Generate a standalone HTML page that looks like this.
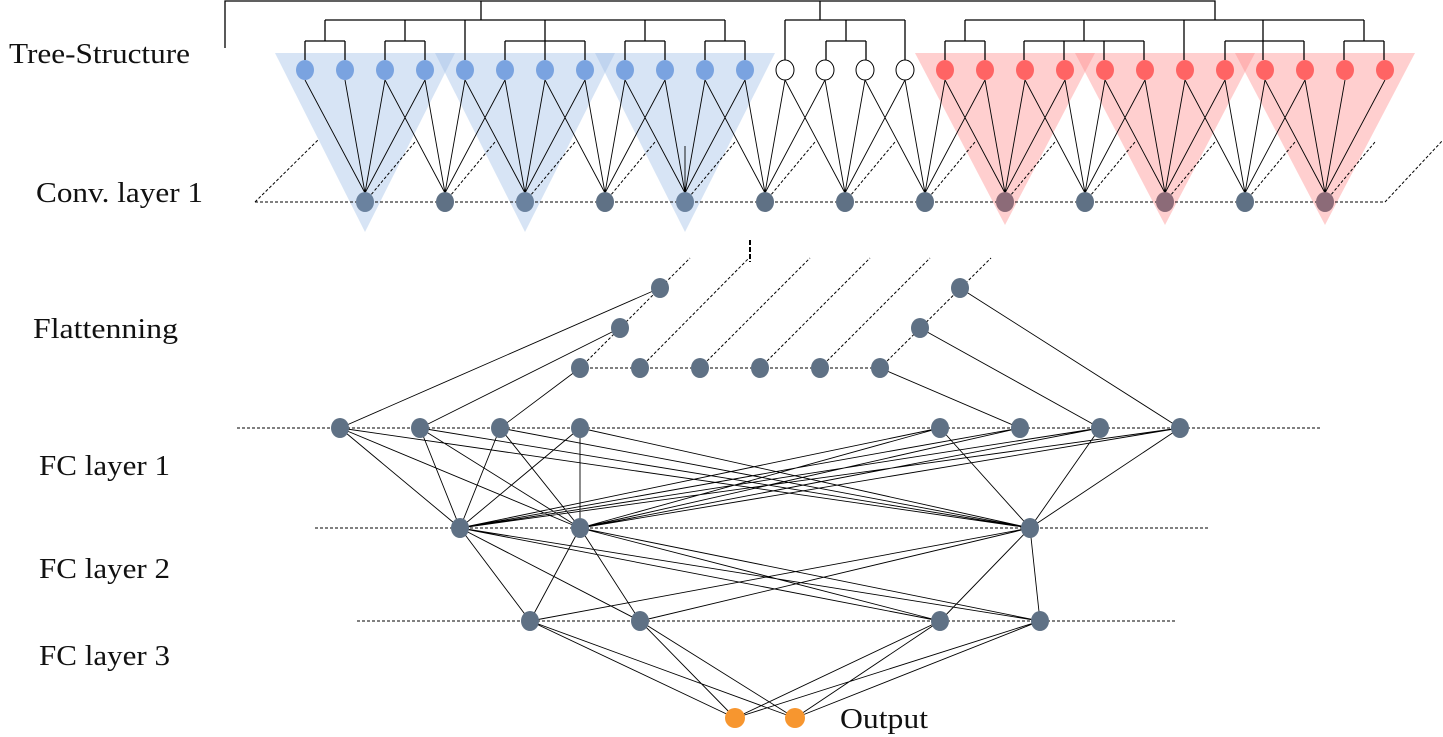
<!DOCTYPE html>
<html><head><meta charset="utf-8"><style>
html,body{margin:0;padding:0;background:#fff;}
svg{display:block;}
text{font-family:"Liberation Serif",serif;font-size:29px;fill:#111;}
</style></head><body>
<svg width="1443" height="737" viewBox="0 0 1443 737" xmlns="http://www.w3.org/2000/svg">
<g fill="rgb(160,190,232)" fill-opacity="0.42">
<polygon points="275,53 455,53 365,232"/>
<polygon points="435,53 615,53 525,232"/>
<polygon points="595,53 775,53 685,232"/>
</g>
<g fill="rgb(255,140,140)" fill-opacity="0.42">
<polygon points="915,53 1095,53 1005,225"/>
<polygon points="1075,53 1255,53 1165,225"/>
<polygon points="1235,53 1415,53 1325,225"/>
</g>
<g stroke="#000" stroke-width="1.3" fill="none">
<path d="M225,48 V1 H1215 V20 M481,1 V20 M820,1 V20"/>
<path d="M325,20 H725 M325,20 V41 M305,41 H345 M305,41 V60 M345,41 V60 M405,20 V41 M385,41 H425 M385,41 V60 M425,41 V60 M465,20 V60 M545,20 V41 M505,41 H585 M505,41 V60 M585,41 V60 M545,41 V60 M645,20 V41 M625,41 H665 M625,41 V60 M665,41 V60 M725,20 V41 M705,41 H745 M705,41 V60 M745,41 V60"/>
<path d="M785,20 H905 M785,20 V60 M905,20 V60 M846,20 V41 M826,41 H866 M826,41 V60 M866,41 V60"/>
<path d="M965,20 H1364 M965,20 V41 M945,41 H985 M945,41 V60 M985,41 V60 M1084,20 V41 M1024,41 H1144 M1024,41 V60 M1064,41 V60 M1104,41 V60 M1144,41 V60 M1184,20 V60 M1263,20 V60 M1225,41 H1304 M1225,41 V60 M1304,41 V60 M1364,20 V41 M1344,41 H1384 M1344,41 V60 M1384,41 V60"/>
</g>
<g stroke="#000" stroke-width="1" stroke-dasharray="3,2" fill="none">
<path d="M255,202 H1385 L1443,140 M255,202 L318,140"/>
<path d="M365,202 l50,-60 M445,202 l50,-60 M525,202 l50,-60 M605,202 l50,-60 M685,202 l50,-60 M765,202 l50,-60 M845,202 l50,-60 M925,202 l50,-60 M1005,202 l50,-60 M1085,202 l50,-60 M1165,202 l50,-60 M1245,202 l50,-60 M1325,202 l50,-60"/>
<path d="M750,240 V262" stroke-width="2" stroke-dasharray="5,2"/>
<path d="M580,368 H880 M580,368 L690,258 M640,368 L749,258 M700,368 L810,258 M760,368 L870,258 M820,368 L930,258 M880,368 L991,258"/>
<path d="M237,428 H1322 M315,528 H1210 M357,621 H1175"/>
</g>
<g stroke="#000" stroke-width="0.9" fill="none">
<path d="M305,80 L365,193 M345,80 L365,193 M385,80 L365,193 M425,80 L365,193
M385,80 L445,193 M425,80 L445,193 M465,80 L445,193 M505,80 L445,193
M465,80 L525,193 M505,80 L525,193 M545,80 L525,193 M585,80 L525,193
M545,80 L605,193 M585,80 L605,193 M625,80 L605,193 M665,80 L605,193
M625,80 L685,193 M665,80 L685,193 M705,80 L685,193 M745,80 L685,193
M705,80 L765,193 M745,80 L765,193 M785,80 L765,193 M825,80 L765,193
M785,80 L845,193 M825,80 L845,193 M865,80 L845,193 M905,80 L845,193
M865,80 L925,193 M905,80 L925,193 M945,80 L925,193 M985,80 L925,193
M945,80 L1005,193 M985,80 L1005,193 M1025,80 L1005,193 M1065,80 L1005,193
M1025,80 L1085,193 M1065,80 L1085,193 M1105,80 L1085,193 M1145,80 L1085,193
M1105,80 L1165,193 M1145,80 L1165,193 M1185,80 L1165,193 M1225,80 L1165,193
M1185,80 L1245,193 M1225,80 L1245,193 M1265,80 L1245,193 M1305,80 L1245,193
M1265,80 L1325,193 M1305,80 L1325,193 M1345,80 L1325,193 M1385,80 L1325,193
M685,146 V193"/>
<path d="M660,288 L340,428 M620,328 L420,428 M580,368 L500,428 M880,368 L1020,428 M920,328 L1100,428 M960,288 L1180,428"/>
<path d="M340,428 L460,528 M340,428 L580,528 M340,428 L1030,528
M420,428 L460,528 M420,428 L580,528 M420,428 L1030,528
M500,428 L460,528 M500,428 L580,528 M500,428 L1030,528
M580,428 L460,528 M580,428 L580,528 M580,428 L1030,528
M940,428 L460,528 M940,428 L580,528 M940,428 L1030,528
M1020,428 L460,528 M1020,428 L580,528
M1100,428 L460,528 M1100,428 L580,528 M1100,428 L1030,528
M1180,428 L460,528 M1180,428 L580,528 M1180,428 L1030,528"/>
<path d="M460,528 L530,621 M460,528 L640,621 M460,528 L940,621 M460,528 L1040,621
M580,528 L530,621 M580,528 L640,621 M580,528 L940,621 M580,528 L1040,621
M1030,528 L530,621 M1030,528 L640,621 M1030,528 L940,621 M1030,528 L1040,621"/>
<path d="M530,621 L735,718 M530,621 L795,718 M640,621 L735,718 M640,621 L795,718 M940,621 L735,718 M940,621 L795,718 M1040,621 L735,718 M1040,621 L795,718"/>
</g>
<g fill="#7aa3e0">
<ellipse cx="305" cy="70" rx="9" ry="10"/><ellipse cx="345" cy="70" rx="9" ry="10"/><ellipse cx="385" cy="70" rx="9" ry="10"/><ellipse cx="425" cy="70" rx="9" ry="10"/>
<ellipse cx="465" cy="70" rx="9" ry="10"/><ellipse cx="505" cy="70" rx="9" ry="10"/><ellipse cx="545" cy="70" rx="9" ry="10"/><ellipse cx="585" cy="70" rx="9" ry="10"/>
<ellipse cx="625" cy="70" rx="9" ry="10"/><ellipse cx="665" cy="70" rx="9" ry="10"/><ellipse cx="705" cy="70" rx="9" ry="10"/><ellipse cx="745" cy="70" rx="9" ry="10"/>
</g>
<g fill="#fff" stroke="#000" stroke-width="1">
<ellipse cx="785" cy="70" rx="9" ry="10"/><ellipse cx="825" cy="70" rx="9" ry="10"/><ellipse cx="865" cy="70" rx="9" ry="10"/><ellipse cx="905" cy="70" rx="9" ry="10"/>
</g>
<g fill="#ff6464">
<ellipse cx="945" cy="70" rx="9" ry="10"/><ellipse cx="985" cy="70" rx="9" ry="10"/><ellipse cx="1025" cy="70" rx="9" ry="10"/><ellipse cx="1065" cy="70" rx="9" ry="10"/>
<ellipse cx="1105" cy="70" rx="9" ry="10"/><ellipse cx="1145" cy="70" rx="9" ry="10"/><ellipse cx="1185" cy="70" rx="9" ry="10"/><ellipse cx="1225" cy="70" rx="9" ry="10"/>
<ellipse cx="1265" cy="70" rx="9" ry="10"/><ellipse cx="1305" cy="70" rx="9" ry="10"/><ellipse cx="1345" cy="70" rx="9" ry="10"/><ellipse cx="1385" cy="70" rx="9" ry="10"/>
</g>
<g fill="#5f7185">
<ellipse cx="445" cy="202" rx="9" ry="10"/><ellipse cx="605" cy="202" rx="9" ry="10"/><ellipse cx="765" cy="202" rx="9" ry="10"/><ellipse cx="845" cy="202" rx="9" ry="10"/><ellipse cx="925" cy="202" rx="9" ry="10"/><ellipse cx="1085" cy="202" rx="9" ry="10"/><ellipse cx="1245" cy="202" rx="9" ry="10"/>
</g>
<g fill="#6a829f">
<ellipse cx="365" cy="202" rx="9" ry="10"/><ellipse cx="525" cy="202" rx="9" ry="10"/><ellipse cx="685" cy="202" rx="9" ry="10"/>
</g>
<g fill="#8c6b78">
<ellipse cx="1005" cy="202" rx="9" ry="10"/><ellipse cx="1165" cy="202" rx="9" ry="10"/><ellipse cx="1325" cy="202" rx="9" ry="10"/>
</g>
<g fill="#5f7185">
<ellipse cx="660" cy="288" rx="9" ry="10"/><ellipse cx="620" cy="328" rx="9" ry="10"/><ellipse cx="580" cy="368" rx="9" ry="10"/><ellipse cx="640" cy="368" rx="9" ry="10"/><ellipse cx="700" cy="368" rx="9" ry="10"/><ellipse cx="760" cy="368" rx="9" ry="10"/><ellipse cx="820" cy="368" rx="9" ry="10"/><ellipse cx="880" cy="368" rx="9" ry="10"/><ellipse cx="920" cy="328" rx="9" ry="10"/><ellipse cx="960" cy="288" rx="9" ry="10"/>
<ellipse cx="340" cy="428" rx="9" ry="10"/><ellipse cx="420" cy="428" rx="9" ry="10"/><ellipse cx="500" cy="428" rx="9" ry="10"/><ellipse cx="580" cy="428" rx="9" ry="10"/><ellipse cx="940" cy="428" rx="9" ry="10"/><ellipse cx="1020" cy="428" rx="9" ry="10"/><ellipse cx="1100" cy="428" rx="9" ry="10"/><ellipse cx="1180" cy="428" rx="9" ry="10"/>
<ellipse cx="460" cy="528" rx="9" ry="10"/><ellipse cx="580" cy="528" rx="9" ry="10"/><ellipse cx="1030" cy="528" rx="9" ry="10"/>
<ellipse cx="530" cy="621" rx="9" ry="10"/><ellipse cx="640" cy="621" rx="9" ry="10"/><ellipse cx="940" cy="621" rx="9" ry="10"/><ellipse cx="1040" cy="621" rx="9" ry="10"/>
</g>
<g fill="#f7962f">
<ellipse cx="735" cy="718" rx="10" ry="10"/><ellipse cx="795" cy="718" rx="10" ry="10"/>
</g>
<text x="9" y="63" textLength="181" lengthAdjust="spacingAndGlyphs">Tree-Structure</text>
<text x="36" y="202" textLength="167" lengthAdjust="spacingAndGlyphs">Conv. layer 1</text>
<text x="33" y="338" textLength="145" lengthAdjust="spacingAndGlyphs">Flattenning</text>
<text x="39" y="475" textLength="131" lengthAdjust="spacingAndGlyphs">FC layer 1</text>
<text x="39" y="578" textLength="131" lengthAdjust="spacingAndGlyphs">FC layer 2</text>
<text x="39" y="665" textLength="131" lengthAdjust="spacingAndGlyphs">FC layer 3</text>
<text x="840" y="728" textLength="88" lengthAdjust="spacingAndGlyphs">Output</text>
</svg>
</body></html>
